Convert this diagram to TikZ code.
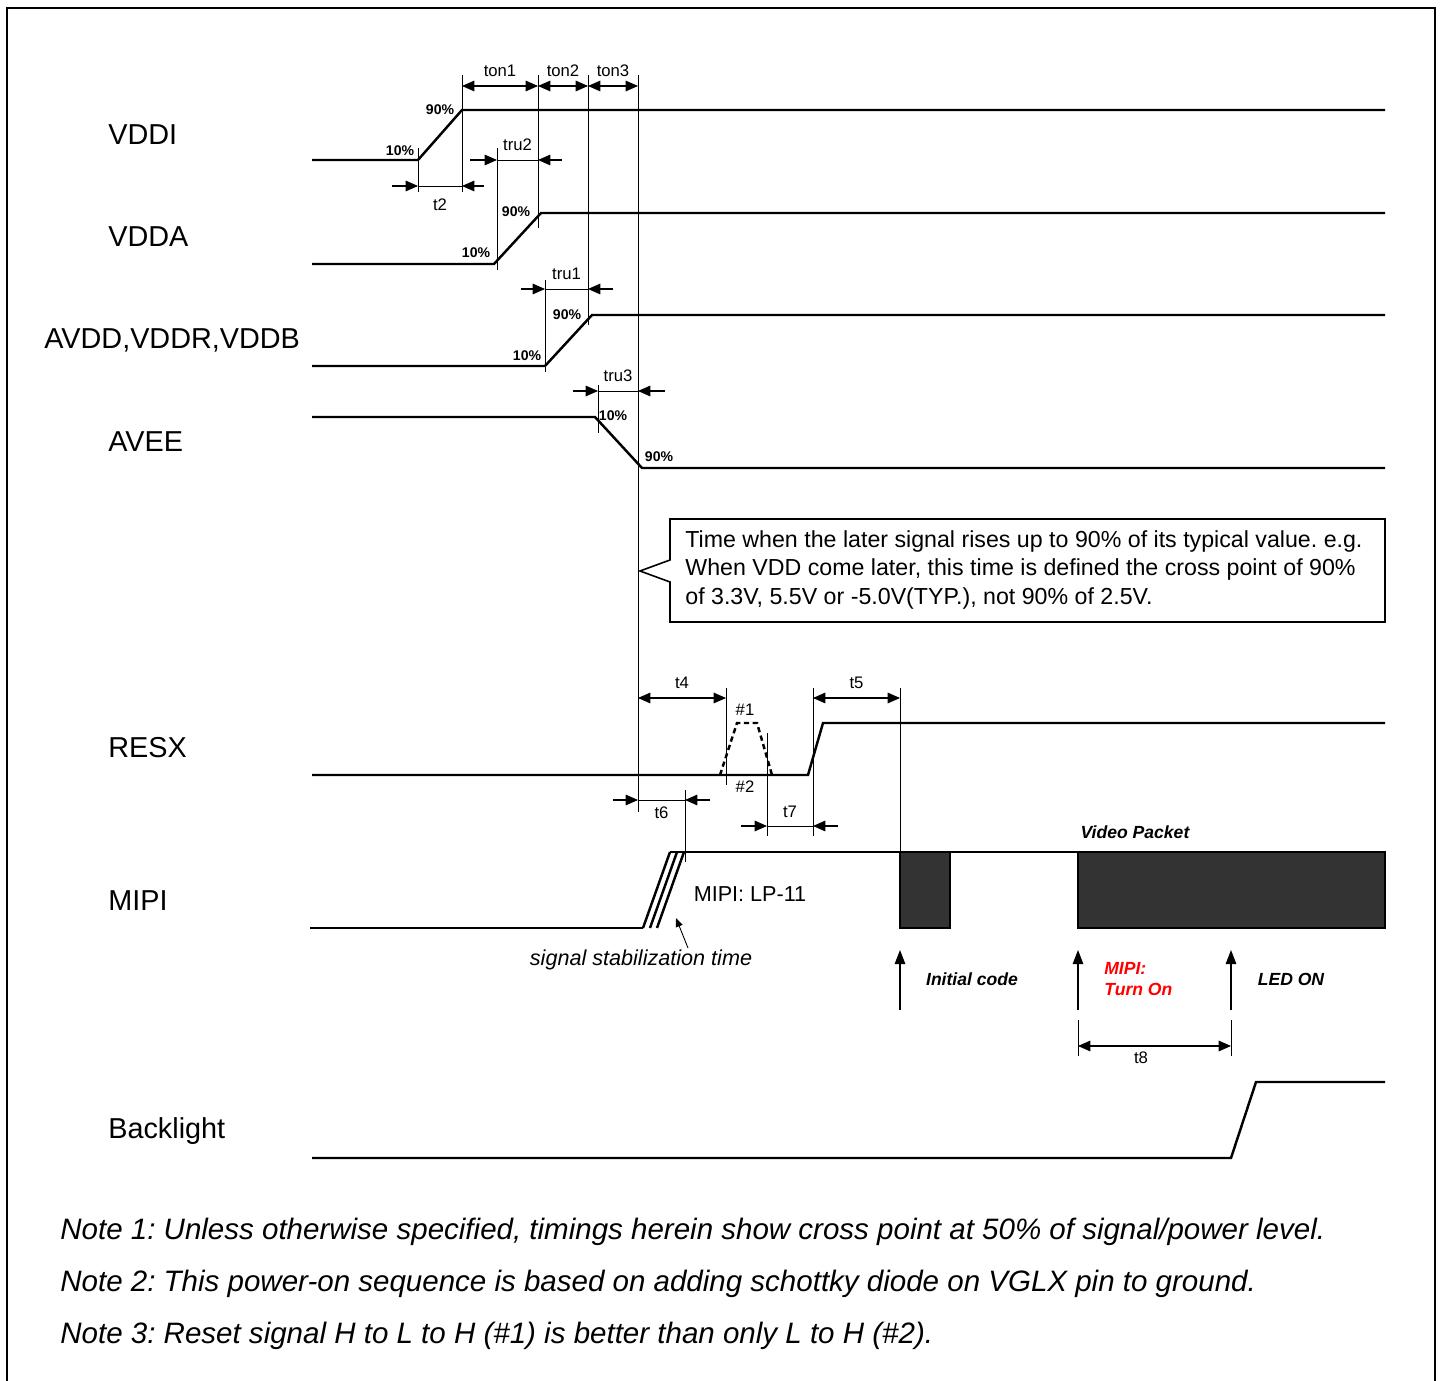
\documentclass[tikz,border=0pt]{standalone}
\usepackage{fontspec}
\setmainfont{Liberation Sans}
\usetikzlibrary{arrows.meta}
\definecolor{pkt-grau}{HTML}{333333}
\definecolor{mipi-rot}{HTML}{FF0000}
\frenchspacing

\begin{document}
\begin{tikzpicture}[x=0.02cm,y=-0.02cm,
    every node/.style={inner sep=0pt},
    sig/.style={line width=1.4pt},
    guide/.style={line width=0.5pt},
    dimarr/.style={line width=0.6pt,-{Triangle[length=7pt,width=6pt]}},
    dimboth/.style={line width=0.6pt,{Triangle[length=7pt,width=6pt]}-{Triangle[length=7pt,width=6pt]}},
    signame/.style={font=\fontsize{16.4}{19}\selectfont,anchor=west},
    pct/.style={font=\fontsize{8}{10}\selectfont\bfseries},
    tlab/.style={font=\fontsize{9.5}{11}\selectfont},
    notetext/.style={font=\fontsize{16.8}{19}\selectfont\itshape,anchor=west},
    bilab/.style={font=\fontsize{10}{12}\selectfont\bfseries\itshape}]
    \useasboundingbox (0,0) rectangle (1441,1381);

    % Rahmen
    \draw[line width=1.1pt] (7,1381) -- (7,8) -- (1435,8) -- (1435,1381);

    % Signalnamen
    \node[signame] (n-vddi) at (108,135) {VDDI};
    \node[signame] (n-vdda) at (108,237) {VDDA};
    \node[signame] (n-avdd) at (44,340) {AVDD,VDDR,VDDB};
    \node[signame] (n-avee) at (108,442) {AVEE};
    \node[signame] (n-resx) at (108,748) {RESX};
    \node[signame] (n-mipi) at (108,901) {MIPI};
    \node[signame] (n-bl) at (108,1131) {Backlight};

    % Signalverlaeufe
    \draw[sig] (312,160) -- (418,160) -- (462,110) -- (1385,110);
    \draw[sig] (312,264) -- (494,264) -- (541,213) -- (1385,213);
    \draw[sig] (312,366) -- (545,366) -- (592,315) -- (1385,315);
    \draw[sig] (312,417) -- (595,417) -- (642,468) -- (1385,468);
    \draw[sig] (312,775) -- (808,775) -- (823,723) -- (1385,723);
    \draw[sig,dash pattern=on 3pt off 2pt] (720,775) -- (737,723) -- (757,723) -- (772,775);
    \draw[sig] (310,928) -- (643,928);
    \foreach \d in {0,7,14}
        \draw[sig] (643+\d,928) -- (670+\d,852);
    \draw[sig] (670,852) -- (1078,852);
    \draw[sig,fill=pkt-grau] (900,852) rectangle (950,928);
    \draw[sig,fill=pkt-grau] (1078,852) rectangle (1385,928);
    \draw[sig] (312,1158) -- (1231,1158) -- (1256,1082) -- (1385,1082);

    % Hilfslinien
    \foreach \x/\ya/\yb in {418/148/192, 462/75/192, 538/75/228, 588/75/325,
                            638/75/812, 497/148/270, 545/280/372, 598/385/433,
                            726/688/785, 767/733/836, 813/688/836, 900/688/852,
                            685/790/862, 1078/1020/1056, 1231/1020/1056}
        \draw[guide] (\x,\ya) -- (\x,\yb);

    % Prozentmarken
    \node[pct] (p-1) at (400,151) {10\%};
    \node[pct] (p-2) at (440,110) {90\%};
    \node[pct] (p-3) at (476,253) {10\%};
    \node[pct] (p-4) at (516,212) {90\%};
    \node[pct] (p-5) at (527,356) {10\%};
    \node[pct] (p-6) at (567,315) {90\%};
    \node[pct] (p-7) at (613,416) {10\%};
    \node[pct] (p-8) at (659,457) {90\%};

    % Zeitmasse zwischen den Linien
    \foreach \xa/\xb/\y/\lab in {462/538/86/ton1, 538/588/86/ton2, 588/638/86/ton3,
                                 638/726/698/t4, 813/900/698/t5}
        \draw[dimboth] (\xa,\y) -- node[tlab,above=5pt] (d-\lab) {\lab} (\xb,\y);
    \draw[dimboth] (1078,1046) -- (1231,1046);
    \node[tlab] (d-t8) at (1141,1058) {t8};

    % Zeitmasse von aussen
    \foreach \xo/\xa/\xb/\xp/\y/\lab/\ly in {392/418/462/484/186/t2/205, 470/497/538/562/160/tru2/145,
                                             521/545/588/613/289/tru1/274, 573/598/638/665/391/tru3/376,
                                             613/638/685/710/800/t6/813, 741/767/813/838/826/t7/812} {
        \draw[dimarr] (\xo,\y) -- (\xa,\y);
        \draw[guide] (\xa,\y) -- (\xb,\y);
        \draw[dimarr] (\xp,\y) -- (\xb,\y);
        \node[tlab] (d-\lab) at ({(\xa+\xb)/2},\ly) {\lab};
    }

    % Hinweis-Kasten
    \draw[line width=0.9pt] (670,519) -- (1385,519) -- (1385,622) -- (670,622)
        -- (670,582) -- (640,571) -- (670,560) -- cycle;
    \node[anchor=west,align=left,font=\fontsize{13.2}{16.2}\selectfont] (callout) at (685,570)
        {Time when the later signal rises up to 90\% of its typical value. e.g.\\
         When VDD come later, this time is defined the cross point of 90\%\\
         of 3.3V, 5.5V or -5.0V(TYP.), not 90\% of 2.5V.};

    % RESX und MIPI Beschriftungen
    \node[tlab] (h1) at (745,710) {\#1};
    \node[tlab] (h2) at (745,787) {\#2};
    \node[font=\fontsize{12.3}{14}\selectfont] (lp11) at (750,894) {MIPI: LP-11};
    \node[font=\fontsize{12.3}{14}\selectfont\itshape] (stab) at (641,960) {signal stabilization time};
    \draw[line width=0.5pt,-{Triangle[length=5pt,width=4pt]}] (688,948) -- (676,918);
    \node[bilab] (vpkt) at (1135,832) {Video Packet};

    % Ereignispfeile
    \foreach \x in {900,1078,1231}
        \draw[line width=0.7pt,-{Triangle[length=8pt,width=6pt]}] (\x,1010) -- (\x,950);
    \node[bilab] (init) at (972,979) {Initial code};
    \node[bilab,text=mipi-rot,anchor=west,align=left] (turnon) at (1104,979) {MIPI:\\Turn On};
    \node[bilab] (ledon) at (1291,979) {LED ON};

    % Anmerkungen
    \node[notetext] (note1) at (60,1232) {Note 1: Unless otherwise specified, timings herein show cross point at 50\% of signal/power level.};
    \node[notetext] (note2) at (60,1284) {Note 2: This power-on sequence is based on adding schottky diode on VGLX pin to ground.};
    \node[notetext] (note3) at (60,1336) {Note 3: Reset signal H to L to H (\#1) is better than only L to H (\#2).};
\end{tikzpicture}
\end{document}
